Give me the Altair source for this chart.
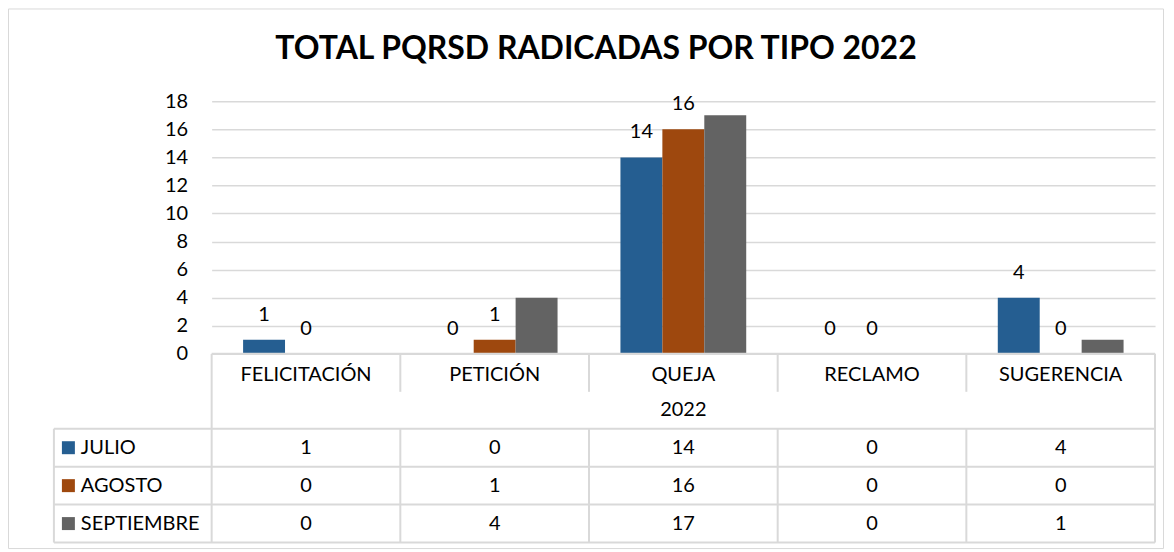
import altair as alt
import pandas as pd

# ---- data ----
categorias = ["FELICITACIÓN", "PETICIÓN", "QUEJA", "RECLAMO", "SUGERENCIA"]
series = ["JULIO", "AGOSTO", "SEPTIEMBRE"]
julio = [1, 0, 14, 0, 4]
agosto = [0, 1, 16, 0, 0]
septiembre = [0, 4, 17, 0, 1]
series_con_etiqueta = ["JULIO", "AGOSTO"]
y_ticks = [0, 2, 4, 6, 8, 10, 12, 14, 16, 18]
titulo = "TOTAL PQRSD RADICADAS POR TIPO 2022"
anio = "2022"

colores = ["#255E91", "#9E480E", "#636363"]
FONT = "Lato"
LINE = "#d9d9d9"
INK = "#000000"
FS = 20

rows = []
for s, vals in zip(series, [julio, agosto, septiembre]):
    for c, v in zip(categorias, vals):
        rows.append({"categoria": c, "serie": s, "valor": v})
df = pd.DataFrame(rows)
df_lab = df[df["serie"].isin(series_con_etiqueta)].reset_index(drop=True)
df_cat = pd.DataFrame({"categoria": categorias})
one = pd.DataFrame({"k": [0]})

# ---- layout (pixels relative to plot origin) ----
W = 945
PLOT_H = 253
H = 442
HEADER_B = 291
YEAR_B = 328
ROW_B = [366, 404, 442]
ROW_C = [347, 385, 423]
LEG_L = -158
CELL = W / len(categorias)

xcat = alt.X("categoria:N", sort=categorias,
             scale=alt.Scale(domain=categorias, paddingInner=0, paddingOuter=0),
             axis=None)
yval = alt.Y("valor:Q",
             scale=alt.Scale(domain=[0, 18], range=[PLOT_H, 0], nice=False),
             axis=alt.Axis(values=y_ticks, title=None, grid=True, ticks=False,
                           domain=False, labelFontSize=FS, labelPadding=24,
                           labelColor=INK, labelFont=FONT,
                           gridColor=LINE, gridWidth=1.5))
xoff = alt.XOffset("serie:N", sort=series,
                   scale=alt.Scale(domain=series, paddingOuter=0.75, paddingInner=0))
col = alt.Color("serie:N", scale=alt.Scale(domain=series, range=colores), legend=None)

txt = dict(fontSize=FS, font=FONT, color=INK, baseline="middle")

border = alt.Chart(one).mark_rect(fillOpacity=0, stroke=LINE, strokeWidth=1).encode(
    x=alt.value(-203.5), x2=alt.value(953.5), y=alt.value(-92.5), y2=alt.value(448))

bars = alt.Chart(df).mark_bar().encode(x=xcat, y=yval, xOffset=xoff, color=col)

labels = alt.Chart(df_lab).mark_text(dy=-25, **txt).encode(
    x=xcat, y=alt.Y("valor:Q"), xOffset=xoff, text="valor:Q")

cat_text = alt.Chart(df_cat).mark_text(**txt).encode(
    x=xcat, y=alt.value(274), text="categoria:N")

year_text = alt.Chart(one).mark_text(**txt).encode(
    x=alt.value(W / 2), y=alt.value(309), text=alt.value(anio))

title = alt.Chart(one).mark_text(fontSize=32, font=FONT, fontWeight="bold",
                                 color=INK, baseline="middle").encode(
    x=alt.value(385), y=alt.value(-52), text=alt.value(titulo))

layers = [border, bars, labels, cat_text, year_text, title]

rule_kw = dict(color=LINE, strokeWidth=2)
# vertical table lines
for i in range(1, len(categorias)):
    xv = CELL * i
    layers.append(alt.Chart(one).mark_rule(**rule_kw).encode(
        x=alt.value(xv), y=alt.value(PLOT_H), y2=alt.value(HEADER_B)))
    layers.append(alt.Chart(one).mark_rule(**rule_kw).encode(
        x=alt.value(xv), y=alt.value(YEAR_B), y2=alt.value(H)))
layers.append(alt.Chart(one).mark_rule(**rule_kw).encode(
    x=alt.value(0), y=alt.value(PLOT_H), y2=alt.value(H)))
layers.append(alt.Chart(one).mark_rule(**rule_kw).encode(
    x=alt.value(W), y=alt.value(PLOT_H), y2=alt.value(H)))
layers.append(alt.Chart(one).mark_rule(**rule_kw).encode(
    x=alt.value(LEG_L), y=alt.value(YEAR_B), y2=alt.value(H)))
# horizontal table lines
layers.append(alt.Chart(one).mark_rule(**rule_kw).encode(
    x=alt.value(0), x2=alt.value(W), y=alt.value(PLOT_H)))
for yb in [YEAR_B] + ROW_B:
    layers.append(alt.Chart(one).mark_rule(**rule_kw).encode(
        x=alt.value(LEG_L), x2=alt.value(W), y=alt.value(yb)))

# table rows
for s, yc in zip(series, ROW_C):
    df_s = df[df["serie"] == s].reset_index(drop=True)
    df_one = pd.DataFrame({"serie": [s]})
    layers.append(alt.Chart(df_s).mark_text(**txt).encode(
        x=xcat, y=alt.value(yc), text="valor:Q"))
    layers.append(alt.Chart(df_one).mark_square(size=169, opacity=1).encode(
        x=alt.value(-143.5), y=alt.value(yc), color=col))
    layers.append(alt.Chart(df_one).mark_text(align="left", **txt).encode(
        x=alt.value(-131), y=alt.value(yc), text="serie:N"))

chart = alt.layer(*layers).properties(
    width=W, height=H,
    autosize=alt.AutoSizeParams(type="none"),
    padding={"left": 204, "top": 93, "right": 11, "bottom": 8},
    background="white",
).configure_view(stroke=None)

chart.save("out.html", embed_options={"renderer": "svg", "actions": False})
